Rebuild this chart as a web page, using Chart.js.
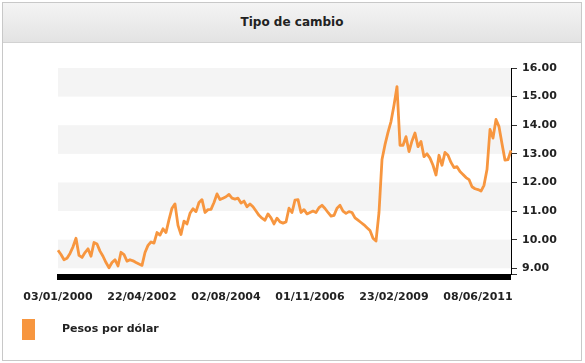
<!DOCTYPE html>
<html>
<head>
<meta charset="utf-8">
<title>Tipo de cambio</title>
<script src="https://cdn.jsdelivr.net/npm/chart.js@4/dist/chart.umd.min.js"></script>
<style>
  body { margin: 0; background: #fff; font-family: "DejaVu Sans", Verdana, sans-serif; }
  #wrap { position: relative; width: 585px; height: 363px; overflow: hidden; }
  #frame { position: absolute; left: 2px; top: 2px; width: 578px; height: 357px; border: 1px solid #c8c8c8; }
  #head { height: 39px; line-height: 39px; border-bottom: 1px solid #d2d2d2; background: linear-gradient(#f4f4f4, #e3e3e3);
          text-align: center; font-size: 12px; font-weight: bold; color: #222; }
  #chart { position: absolute; left: 0; top: 0; }
  #legend { position: absolute; left: 22px; top: 319px; height: 21px; line-height: 21px; font-size: 11px; font-weight: bold; color: #222; }
  #legend .box { position: absolute; left: 0; top: 0; width: 13px; height: 21px; background: #f7963f; }
  #legend .txt { position: absolute; left: 40px; top: -1px; white-space: nowrap; }
</style>
</head>
<body>
<div id="wrap">
  <div id="frame"><div id="head">Tipo de cambio</div></div>
  <canvas id="chart" width="585" height="363"></canvas>
  <div id="legend"><span class="box"></span><span class="txt">Pesos por dólar</span></div>
</div>
<script>
// fechas mostradas en el eje x (una cada 28 puntos)
const dateLabels = ["03/01/2000", "22/04/2002", "02/08/2004", "01/11/2006", "23/02/2009", "08/06/2011"];
const labelEvery = 28;

// valores del eje y
const yTickValues = [9, 10, 11, 12, 13, 14, 15, 16];
const yMin = 8.8;
const yMax = 16;

// pesos por dólar
const pesosPorDolar = [
  9.63, 9.48, 9.30, 9.35, 9.52, 9.75, 10.05, 9.45, 9.38, 9.55,
  9.68, 9.42, 9.90, 9.85, 9.60, 9.42, 9.20, 9.02, 9.20, 9.30,
  9.08, 9.56, 9.48, 9.25, 9.30, 9.26, 9.20, 9.15, 9.10, 9.55,
  9.80, 9.92, 9.88, 10.25, 10.16, 10.38, 10.25, 10.70, 11.10, 11.25,
  10.50, 10.18, 10.65, 10.55, 10.92, 11.08, 10.98, 11.30, 11.40, 10.95,
  11.05, 11.06, 11.30, 11.60, 11.40, 11.45, 11.50, 11.58, 11.45, 11.42,
  11.45, 11.28, 11.35, 11.15, 11.25, 11.15, 11.00, 10.85, 10.75, 10.68,
  10.90, 10.76, 10.55, 10.75, 10.62, 10.58, 10.62, 11.10, 10.95, 11.38,
  11.40, 10.95, 11.05, 10.90, 10.95, 11.00, 10.95, 11.12, 11.20, 11.09,
  10.95, 10.82, 10.85, 11.10, 11.20, 11.00, 10.92, 10.98, 10.95, 10.76,
  10.68, 10.60, 10.52, 10.42, 10.32, 10.05, 9.95, 10.95, 12.80, 13.32,
  13.75, 14.13, 14.70, 15.35, 13.30, 13.30, 13.60, 13.08, 13.45, 13.73,
  13.25, 13.43, 12.90, 13.00, 12.85, 12.60, 12.26, 12.95, 12.60, 13.05,
  12.95, 12.70, 12.52, 12.55, 12.38, 12.28, 12.17, 12.10, 11.85, 11.78,
  11.75, 11.70, 11.90, 12.45, 13.85, 13.55, 14.20, 13.95, 13.35, 12.78,
  12.80, 13.12
];

const labels = pesosPorDolar.map((v, i) => (i % labelEvery === 0 ? (dateLabels[i / labelEvery] || "") : ""));

// franjas grises alternas y barra negra inferior
const bandsPlugin = {
  id: "bands",
  beforeDatasetsDraw(chart) {
    const { ctx, chartArea, scales } = chart;
    const y = scales.y;
    ctx.save();
    ctx.fillStyle = "#f4f4f4";
    yTickValues.forEach((v) => {
      if (v % 2 === 1 && v < y.max) {
        const top = y.getPixelForValue(v + 1);
        const bot = y.getPixelForValue(v);
        ctx.fillRect(chartArea.left, top, chartArea.right - chartArea.left, bot - top);
      }
    });
    ctx.restore();
  },
  afterDatasetsDraw(chart) {
    const { ctx, chartArea } = chart;
    ctx.save();
    ctx.fillStyle = "#000";
    ctx.fillRect(chartArea.left - 1, chartArea.bottom, chartArea.right - chartArea.left + 1, 6);
    ctx.restore();
  },
};

const tickFont = { family: "'DejaVu Sans', Verdana, sans-serif", size: 11, weight: "bold" };

new Chart(document.getElementById("chart"), {
  type: "line",
  data: {
    labels: labels,
    datasets: [
      {
        label: "Pesos por dólar",
        data: pesosPorDolar,
        borderColor: "#f7963f",
        borderWidth: 2.8,
        pointRadius: 0,
        tension: 0,
        borderJoinStyle: "round",
      },
    ],
  },
  options: {
    responsive: false,
    animation: false,
    layout: { padding: { left: 58, top: 68, right: 20, bottom: 49 } },
    plugins: { legend: { display: false }, tooltip: { enabled: false } },
    scales: {
      x: {
        grid: { display: false, drawTicks: false },
        border: { display: false },
        ticks: { autoSkip: false, maxRotation: 0, minRotation: 0, padding: 17, color: "#222", font: tickFont },
        afterFit: (scale) => { scale.height = 40; },
      },
      y: {
        position: "right",
        min: yMin,
        max: yMax,
        grid: { drawOnChartArea: false, color: "#333", tickLength: 6 },
        border: { display: true, color: "#000", width: 1 },
        afterBuildTicks: (scale) => {
          scale.ticks = [yMin].concat(yTickValues).map((v) => ({ value: v }));
        },
        ticks: {
          padding: 5,
          color: "#222",
          font: tickFont,
          callback: (v) => (Number.isInteger(v) ? v.toFixed(2) : ""),
        },
        afterFit: (scale) => { scale.width = 54; },
      },
    },
  },
  plugins: [bandsPlugin],
});
</script>
</body>
</html>
